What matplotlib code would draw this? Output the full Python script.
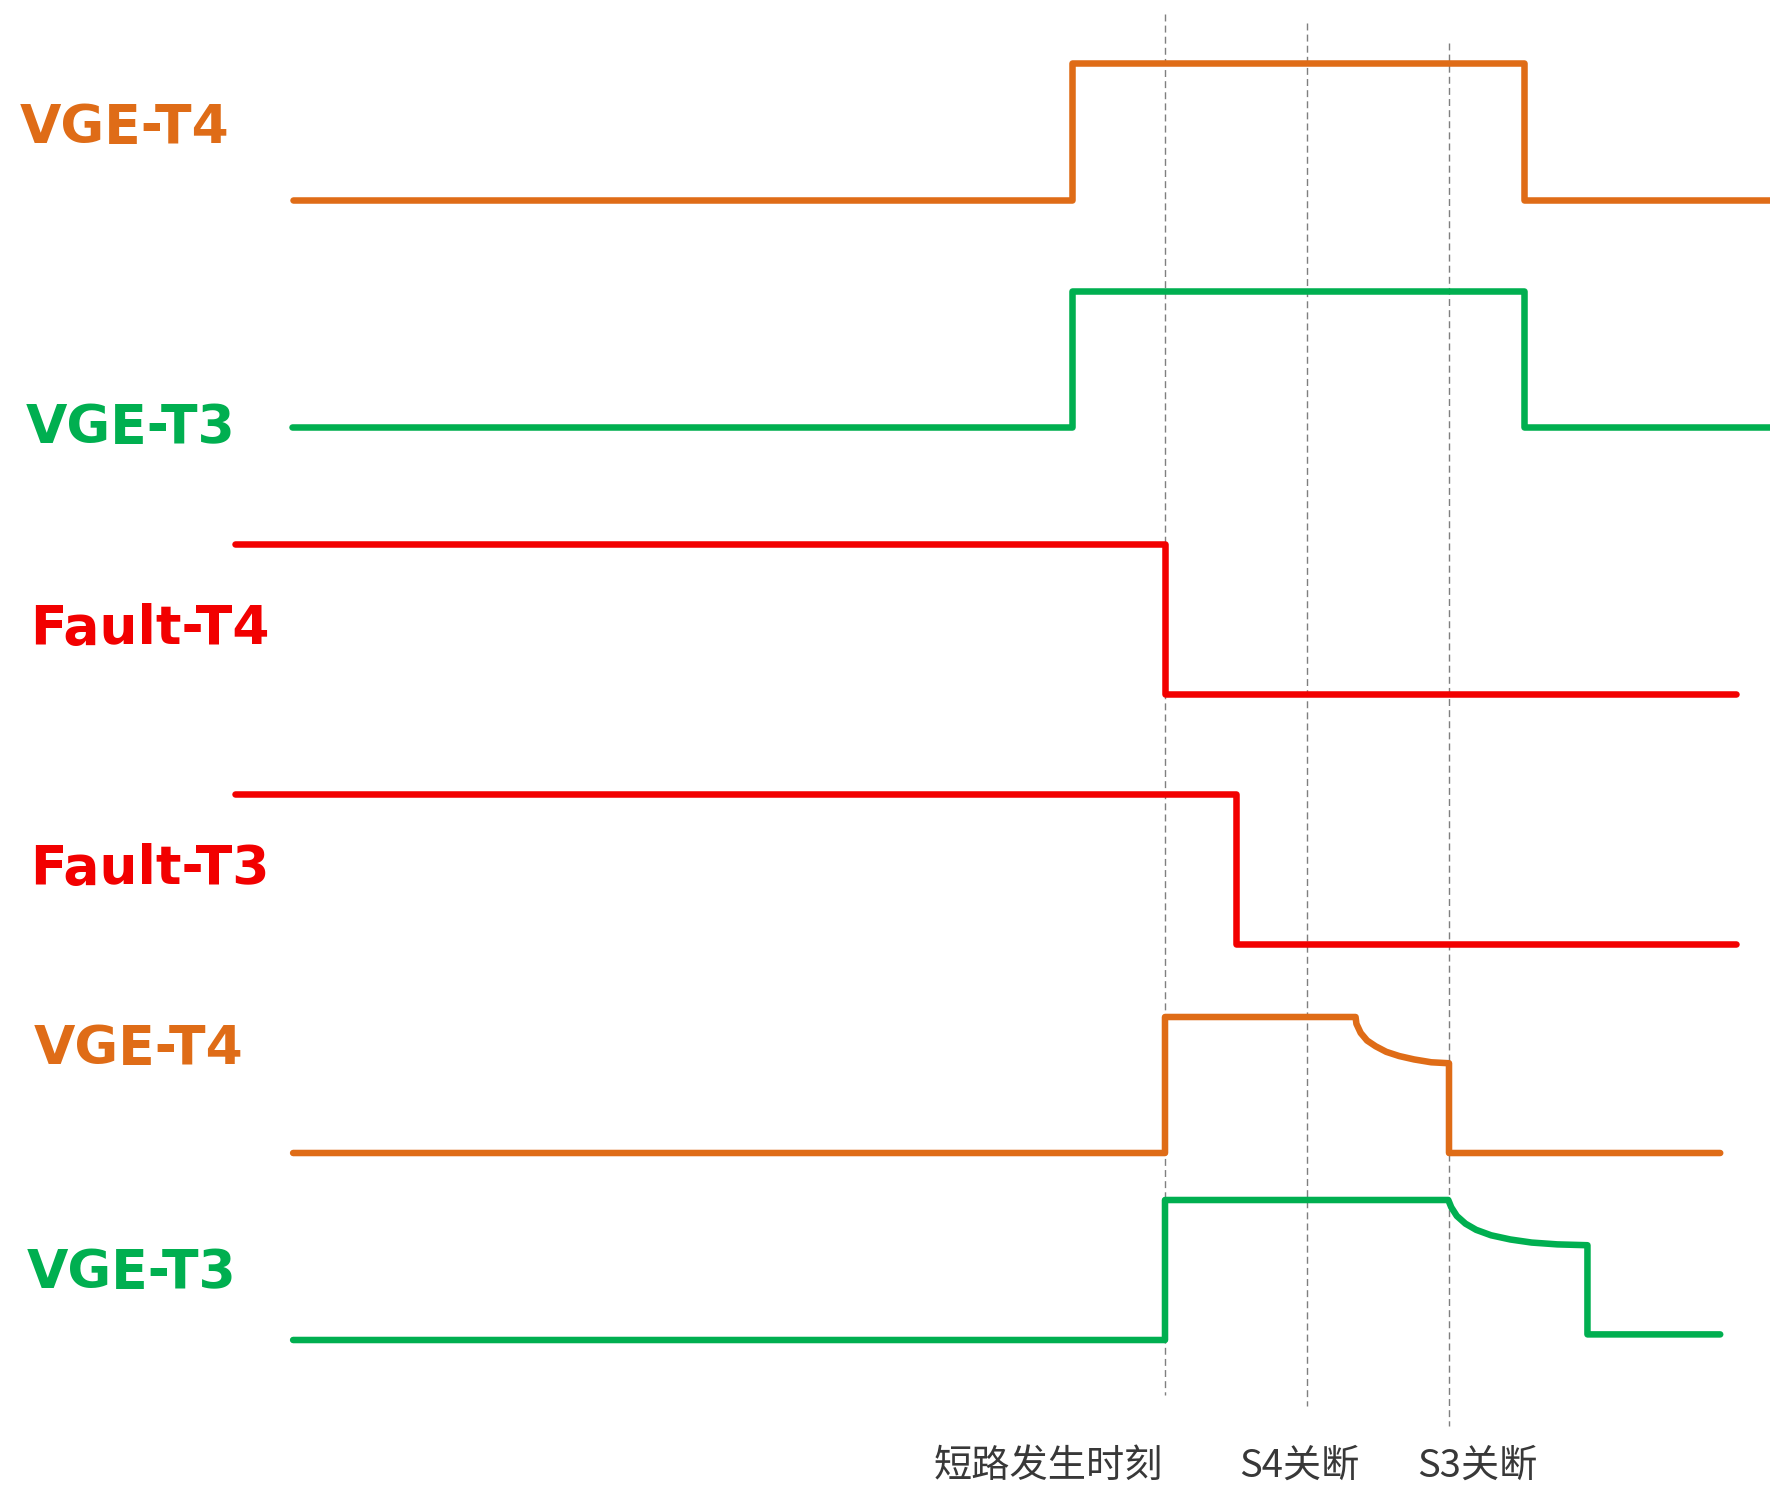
import matplotlib
matplotlib.use('Agg')
import matplotlib.pyplot as plt

plt.rcParams['font.family'] = ['DejaVu Sans']

# colours
orange = '#DF6C17'
green = '#00AF50'
red = '#F20000'

# time axis: 0 = short circuit, 1 = S4 off, 2 = S3 off
event_t = [0.0, 1.0, 2.0]
event_labels = ['短路发生时刻', 'S4关断', 'S3关断']

# top pair of gate signals (normal pulse)
vge_t4_top_t = [-6.14, -0.655, -0.655, 2.53, 2.53, 4.4]
vge_t4_top_v = [0, 0, 1, 1, 0, 0]
vge_t3_top_t = [-6.15, -0.655, -0.655, 2.53, 2.53, 4.4]
vge_t3_top_v = [0, 0, 1, 1, 0, 0]

# fault signals
fault_t4_t = [-6.55, 0.0, 0.0, 4.02]
fault_t4_v = [1, 1, 0, 0]
fault_t3_t = [-6.55, 0.5, 0.5, 4.02]
fault_t3_v = [1, 1, 0, 0]

# bottom pair of gate signals (soft turn-off)
vge_t4_bot_t = [-6.14, 0.0, 0.0, 1.342, 1.348, 1.378, 1.423, 1.483, 1.558,
                1.649, 1.754, 1.875, 2.0, 2.0, 3.91]
vge_t4_bot_v = [0, 0, 1, 1, 0.95, 0.883, 0.827, 0.785, 0.744,
                0.713, 0.688, 0.667, 0.66, 0, 0]
vge_t3_bot_t = [-6.14, 0.0, 0.0, 1.995, 2.016, 2.055, 2.116, 2.191, 2.296,
                2.432, 2.582, 2.763, 2.975, 2.975, 3.91]
vge_t3_bot_v = [0, 0, 1, 1, 0.948, 0.886, 0.831, 0.787, 0.748,
                0.718, 0.696, 0.683, 0.677, 0.04, 0.04]

# row layout: (low y, high y) in figure pixels
rows = [
    (vge_t4_top_t, vge_t4_top_v, orange, 200, 63),
    (vge_t3_top_t, vge_t3_top_v, green, 427, 291),
    (fault_t4_t, fault_t4_v, red, 694, 544),
    (fault_t3_t, fault_t3_v, red, 944, 794),
    (vge_t4_bot_t, vge_t4_bot_v, orange, 1153, 1017),
    (vge_t3_bot_t, vge_t3_bot_v, green, 1340, 1200),
]
labels = ['VGE-T4', 'VGE-T3', 'Fault-T4', 'Fault-T3', 'VGE-T4', 'VGE-T3']
label_x = [20, 26, 30, 30, 34, 27]
label_base = [143, 443, 644, 884, 1064, 1288]

x0, unit = 1165.0, 142.0

fig = plt.figure(figsize=(17.7, 14.88), dpi=100)
ax = fig.add_axes([0, 0, 1, 1])
ax.set_xlim(-x0 / unit, (1770 - x0) / unit)
ax.set_ylim(1488, 0)
ax.axis('off')

# dashed event markers
dash_top = [14, 23, 43]
dash_bot = [1395, 1406, 1426]
for t, y1, y2 in zip(event_t, dash_top, dash_bot):
    ax.plot([t, t], [y1, y2], color='#7f7f7f', lw=1.0,
            linestyle=(0, (5, 3)), zorder=1)

for t, v, c, lo, hi in rows:
    y = [lo - (lo - hi) * k for k in v]
    ax.plot(t, y, color=c, lw=4.7, solid_capstyle='round',
            solid_joinstyle='round', zorder=2)

for (t, v, c, lo, hi), lab, lx, by in zip(rows, labels, label_x, label_base):
    ax.text(lx / unit - x0 / unit, by, lab, color=c, fontsize=38.5,
            fontweight='bold', ha='left', va='baseline')

label_cx = [1048, 1299, 1477]
for cx, lab in zip(label_cx, event_labels):
    ax.text((cx - x0) / unit, 1466, lab, color='#383838', fontsize=27.5,
            family=['Noto Sans CJK SC', 'DejaVu Sans'],
            ha='center', va='center')

fig.savefig('out.png', dpi=100, facecolor='white')
